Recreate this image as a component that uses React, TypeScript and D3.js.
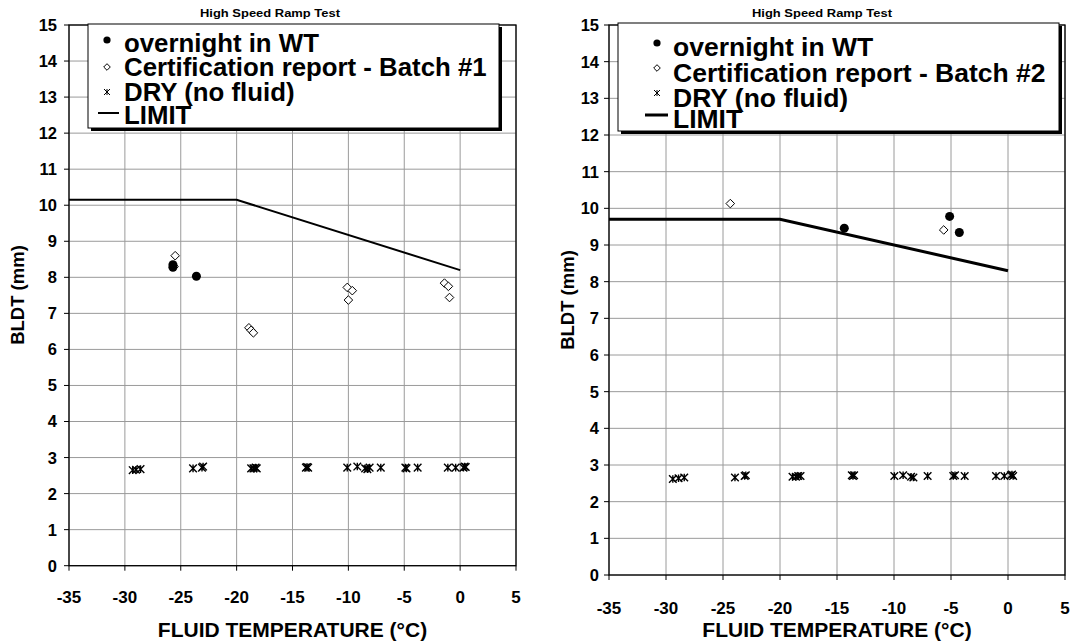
import React from "react";
import * as d3 from "d3";

// ---- shared axis content ----
const chartTitle = "High Speed Ramp Test";
const xAxisTitle = "FLUID TEMPERATURE (°C)";
const yAxisTitle = "BLDT (mm)";
const xTickValues = [-35, -30, -25, -20, -15, -10, -5, 0, 5];
const yTickValues = [0, 1, 2, 3, 4, 5, 6, 7, 8, 9, 10, 11, 12, 13, 14, 15];

// ---- Batch #1 panel ----
const legendLabels1 = ["overnight in WT", "Certification report - Batch #1", "DRY (no fluid)", "LIMIT"];
const wtTemp1 = [-25.7, -25.7, -23.6];
const wtBldt1 = [8.35, 8.28, 8.03];
const certTemp1 = [-25.5, -25.6, -18.9, -18.7, -18.5, -10.1, -9.65, -10.0, -1.4, -1.05, -0.95];
const certBldt1 = [8.6, 8.3, 6.6, 6.53, 6.46, 7.72, 7.63, 7.37, 7.84, 7.75, 7.44];
const dryTemp1 = [-29.3, -29.0, -28.6, -23.9, -23.1, -23.0, -18.7, -18.5, -18.3, -18.2, -13.8, -13.7, -13.6,
  -10.1, -9.2, -8.5, -8.3, -8.1, -7.1, -4.9, -4.8, -3.8, -1.1, -0.4, 0.3, 0.4, 0.5];
const dryBldt1 = [2.65, 2.66, 2.68, 2.7, 2.72, 2.75, 2.7, 2.7, 2.72, 2.7, 2.72, 2.74, 2.72,
  2.72, 2.75, 2.7, 2.68, 2.72, 2.72, 2.72, 2.7, 2.72, 2.72, 2.72, 2.72, 2.75, 2.74];
const limitTemp1 = [-35, -20, 0];
const limitBldt1 = [10.15, 10.15, 8.2];

// ---- Batch #2 panel ----
const legendLabels2 = ["overnight in WT", "Certification report - Batch #2", "DRY (no fluid)", "LIMIT"];
const wtTemp2 = [-14.36, -5.12, -4.27];
const wtBldt2 = [9.46, 9.78, 9.34];
const certTemp2 = [-24.36, -5.64];
const certBldt2 = [10.13, 9.41];
const dryTemp2 = [-29.4, -28.9, -28.4, -23.95, -23.1, -23.0, -18.9, -18.6, -18.4, -18.2, -13.7, -13.6, -13.5,
  -9.97, -9.2, -8.5, -8.3, -7.05, -4.8, -4.65, -3.8, -1.05, -0.32, 0.25, 0.35, 0.45];
const dryBldt2 = [2.62, 2.64, 2.66, 2.66, 2.7, 2.72, 2.68, 2.68, 2.7, 2.7, 2.72, 2.7, 2.72,
  2.7, 2.72, 2.68, 2.66, 2.7, 2.7, 2.72, 2.7, 2.7, 2.7, 2.72, 2.74, 2.7];
const limitTemp2 = [-35, -20, 0];
const limitBldt2 = [9.7, 9.7, 8.3];

const FONT = "'Liberation Sans', Arial, Helvetica, sans-serif";

type Pt = { t: number; b: number };
const zip = (t: number[], b: number[]): Pt[] => t.map((v, i) => ({ t: v, b: b[i] }));

const starPath = (s: number) => `M${-s},${-s}L${s},${s}M${-s},${s}L${s},${-s}M0,${-s}L0,${s}`;
const diamondPath = (s: number) => `M0,${-s}L${s},0L0,${s}L${-s},0Z`;

type PanelProps = {
  box: { left: number; top: number; right: number; bottom: number };
  wt: Pt[];
  cert: Pt[];
  dry: Pt[];
  limit: Pt[];
  labels: string[];
  limitWidth: number;
  titleX: number;
  yLabelGap: number;
  xLabelDy: number;
  yTitleX: number;
  yTitleY: number;
  legend: {
    x0: number; y0: number; x1: number; y1: number;
    markerX: number; textX: number; fontSize: number;
    rows: number[]; markerRows: number[]; lineX0: number; lineX1: number;
  };
};

function Panel(p: PanelProps) {
  const { box } = p;
  const x = d3.scaleLinear().domain([-35, 5]).range([box.left, box.right]);
  const y = d3.scaleLinear().domain([0, 15]).range([box.bottom, box.top]);
  const line = d3.line<Pt>().x((d) => x(d.t)).y((d) => y(d.b));
  const L = p.legend;
  const xCenter = (box.left + box.right) / 2;

  return (
    <g fontFamily={FONT} fontWeight="bold" fill="#000">
      {/* title */}
      <text x={p.titleX} y={17} fontSize={11.5} textAnchor="middle" textLength={140}
        lengthAdjust="spacingAndGlyphs">{chartTitle}</text>

      {/* grid */}
      {yTickValues.map((v) => (
        <line key={"gy" + v} x1={box.left} x2={box.right} y1={y(v)} y2={y(v)} stroke="#9a9a9a" strokeWidth={1} />
      ))}
      {xTickValues.map((v) => (
        <line key={"gx" + v} x1={x(v)} x2={x(v)} y1={box.top} y2={box.bottom} stroke="#9a9a9a" strokeWidth={1} />
      ))}
      {/* frame */}
      <rect x={box.left} y={box.top} width={box.right - box.left} height={box.bottom - box.top}
        fill="none" stroke="#000" strokeWidth={1.3} />

      {/* ticks + tick labels */}
      {yTickValues.map((v) => (
        <g key={"ty" + v}>
          <line x1={box.left - 5} x2={box.left} y1={y(v)} y2={y(v)} stroke="#000" strokeWidth={1} />
          <text x={box.left - p.yLabelGap} y={y(v)} dy="0.36em" fontSize={16.5} textAnchor="end">{v}</text>
        </g>
      ))}
      {xTickValues.map((v) => (
        <g key={"tx" + v}>
          <line x1={x(v)} x2={x(v)} y1={box.bottom} y2={box.bottom + 5} stroke="#000" strokeWidth={1} />
          <text x={x(v)} y={box.bottom + p.xLabelDy} dy="0.36em" fontSize={17} textAnchor="middle">{v}</text>
        </g>
      ))}

      {/* axis titles */}
      <text x={xCenter} y={637} fontSize={21} textAnchor="middle">{xAxisTitle}</text>
      <text transform={`translate(${p.yTitleX},${p.yTitleY}) rotate(-90)`} dy="0.35em" fontSize={18.5}
        textAnchor="middle">{yAxisTitle}</text>

      {/* limit line */}
      <path d={line(p.limit) || ""} fill="none" stroke="#000" strokeWidth={p.limitWidth} />

      {/* dry runs */}
      {p.dry.map((d, i) => (
        <path key={"d" + i} d={starPath(3.8)} transform={`translate(${x(d.t)},${y(d.b)})`}
          fill="none" stroke="#000" strokeWidth={1.4} />
      ))}
      {/* certification report */}
      {p.cert.map((d, i) => (
        <path key={"c" + i} d={diamondPath(4.3)} transform={`translate(${x(d.t)},${y(d.b)})`}
          fill="#fff" stroke="#000" strokeWidth={1} />
      ))}
      {/* overnight in wind tunnel */}
      {p.wt.map((d, i) => (
        <circle key={"w" + i} cx={x(d.t)} cy={y(d.b)} r={4.5} fill="#000" />
      ))}

      {/* legend */}
      <rect x={L.x0 + 3} y={L.y0 + 3} width={L.x1 - L.x0} height={L.y1 - L.y0} fill="#000" />
      <rect x={L.x0} y={L.y0} width={L.x1 - L.x0} height={L.y1 - L.y0} fill="#fff" stroke="#000" strokeWidth={1} />
      <circle cx={L.markerX} cy={L.markerRows[0]} r={3.6} fill="#000" />
      <path d={diamondPath(3.3)} transform={`translate(${L.markerX},${L.markerRows[1]})`} fill="#fff" stroke="#000" strokeWidth={1} />
      <path d={starPath(3)} transform={`translate(${L.markerX},${L.markerRows[2]})`} fill="none" stroke="#000" strokeWidth={1} />
      <line x1={L.lineX0} x2={L.lineX1} y1={L.markerRows[3]} y2={L.markerRows[3]} stroke="#000" strokeWidth={p.limitWidth} />
      {p.labels.map((s, i) => (
        <text key={"l" + i} x={L.textX} y={L.rows[i]} fontSize={L.fontSize}>{s}</text>
      ))}
    </g>
  );
}

export default function App() {
  return (
    <svg width={1072} height={641} style={{ position: "absolute", left: 0, top: 0, background: "#fff" }}>
      <rect width={1072} height={641} fill="#fff" />
      <Panel
        box={{ left: 69, top: 25, right: 516, bottom: 565.7 }}
        wt={zip(wtTemp1, wtBldt1)}
        cert={zip(certTemp1, certBldt1)}
        dry={zip(dryTemp1, dryBldt1)}
        limit={zip(limitTemp1, limitBldt1)}
        labels={legendLabels1}
        limitWidth={2}
        titleX={270}
        yLabelGap={12}
        xLabelDy={31}
        yTitleX={18}
        yTitleY={295}
        legend={{ x0: 88, y0: 24, x1: 499, y1: 128, markerX: 107, textX: 124, fontSize: 25.8,
          rows: [52, 76, 101, 124], markerRows: [40, 67, 92, 113], lineX0: 98, lineX1: 119 }}
      />
      <Panel
        box={{ left: 609, top: 25, right: 1065, bottom: 575 }}
        wt={zip(wtTemp2, wtBldt2)}
        cert={zip(certTemp2, certBldt2)}
        dry={zip(dryTemp2, dryBldt2)}
        limit={zip(limitTemp2, limitBldt2)}
        labels={legendLabels2}
        limitWidth={3}
        titleX={822}
        yLabelGap={10}
        xLabelDy={33}
        yTitleX={568}
        yTitleY={300}
        legend={{ x0: 618, y0: 23, x1: 1059, y1: 131, markerX: 657, textX: 673, fontSize: 26.5,
          rows: [56, 82, 107, 128], markerRows: [43, 68, 93, 115], lineX0: 645, lineX1: 668 }}
      />
    </svg>
  );
}
